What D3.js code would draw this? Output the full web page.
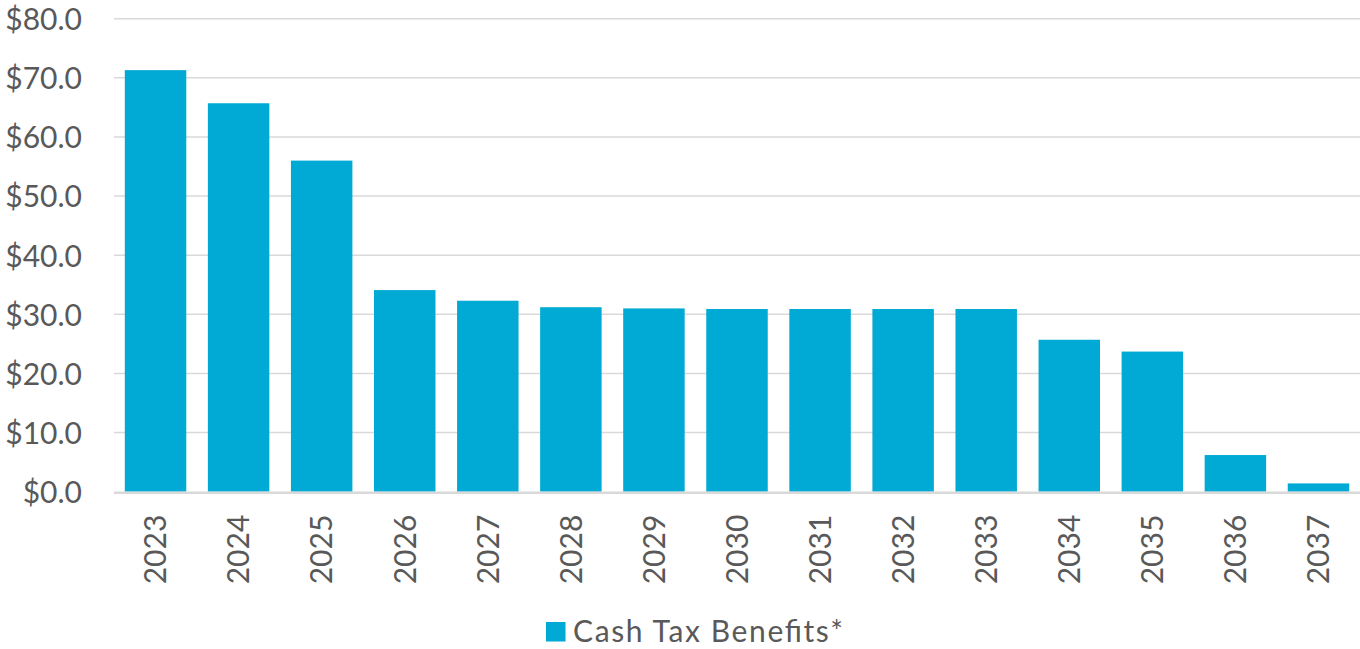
<!DOCTYPE html>
<html>
<head>
<meta charset="utf-8">
<script src="https://cdn.jsdelivr.net/npm/d3@7/dist/d3.min.js"></script>
<style>
  html, body { margin: 0; padding: 0; background: #ffffff; }
  svg { display: block; font-family: Lato, "Open Sans", sans-serif; }
</style>
</head>
<body>
<svg id="chart" width="1360" height="649"></svg>
<script>
// Annual cash tax benefits ($, millions)
const years = ["2023", "2024", "2025", "2026", "2027", "2028", "2029", "2030",
               "2031", "2032", "2033", "2034", "2035", "2036", "2037"];
const cashTaxBenefits = [71.3, 65.7, 56.0, 34.1, 32.3, 31.2, 31.0, 30.9,
                         30.9, 30.9, 30.9, 25.7, 23.7, 6.2, 1.4];
const yTicks = [0, 10, 20, 30, 40, 50, 60, 70, 80];
const seriesName = "Cash Tax Benefits*";

const svg = d3.select("#chart");
const margin = { left: 114, right: 0, top: 18.7, bottom: 157.3 };
const W = 1360, H = 649;

const x = d3.scaleBand()
  .domain(years)
  .range([margin.left, W - margin.right])
  .paddingInner(0.26)
  .paddingOuter(0.13);

const y = d3.scaleLinear()
  .domain([0, 80])
  .range([H - margin.bottom, margin.top]);

const textColor = "#595959";
const gridColor = "#d9d9d9";
const barColor = "#00aad4";

// horizontal gridlines
svg.append("g")
  .selectAll("line")
  .data(yTicks.filter(d => d > 0))
  .join("line")
  .attr("x1", margin.left)
  .attr("x2", W - margin.right)
  .attr("y1", d => y(d))
  .attr("y2", d => y(d))
  .attr("stroke", gridColor)
  .attr("stroke-width", 1.5);

// bars
svg.append("g")
  .selectAll("rect")
  .data(years.map((yr, i) => ({ yr, v: cashTaxBenefits[i] })))
  .join("rect")
  .attr("x", d => x(d.yr))
  .attr("width", x.bandwidth())
  .attr("y", d => y(d.v))
  .attr("height", d => y(0) - y(d.v))
  .attr("fill", barColor);

// baseline
svg.append("line")
  .attr("x1", margin.left)
  .attr("x2", W - margin.right)
  .attr("y1", y(0) + 1)
  .attr("y2", y(0) + 1)
  .attr("stroke", gridColor)
  .attr("stroke-width", 2.5);

// y-axis labels
const yAxis = d3.axisLeft(y)
  .tickValues(yTicks)
  .tickFormat(d => "$" + d3.format(".1f")(d))
  .tickSize(0)
  .tickPadding(0);

const gy = svg.append("g")
  .attr("transform", `translate(82,0)`)
  .call(yAxis);
gy.select(".domain").remove();
gy.selectAll("text")
  .attr("fill", textColor)
  .attr("font-size", 30)
  .attr("font-family", "Lato, 'Open Sans', sans-serif")
  .attr("dy", "0.36em");

// x-axis labels, rotated
const xAxis = d3.axisBottom(x).tickSize(0).tickPadding(0);
const gx = svg.append("g")
  .attr("transform", `translate(0,${y(0)})`)
  .call(xAxis);
gx.select(".domain").remove();
gx.selectAll("text")
  .attr("fill", textColor)
  .attr("font-size", 30)
  .attr("font-family", "Lato, 'Open Sans', sans-serif")
  .attr("text-anchor", "end")
  .attr("transform", "rotate(-90)")
  .attr("x", -23)
  .attr("y", 0)
  .attr("dy", "0.36em");

// legend
const legend = svg.append("g").attr("transform", "translate(546,622)");
legend.append("rect")
  .attr("width", 19.5)
  .attr("height", 19.5)
  .attr("fill", barColor);
legend.append("text")
  .attr("x", 27)
  .attr("y", 20)
  .attr("fill", textColor)
  .attr("font-size", 30)
  .attr("textLength", 270)
  .attr("lengthAdjust", "spacing")
  .text(seriesName);
</script>
</body>
</html>
